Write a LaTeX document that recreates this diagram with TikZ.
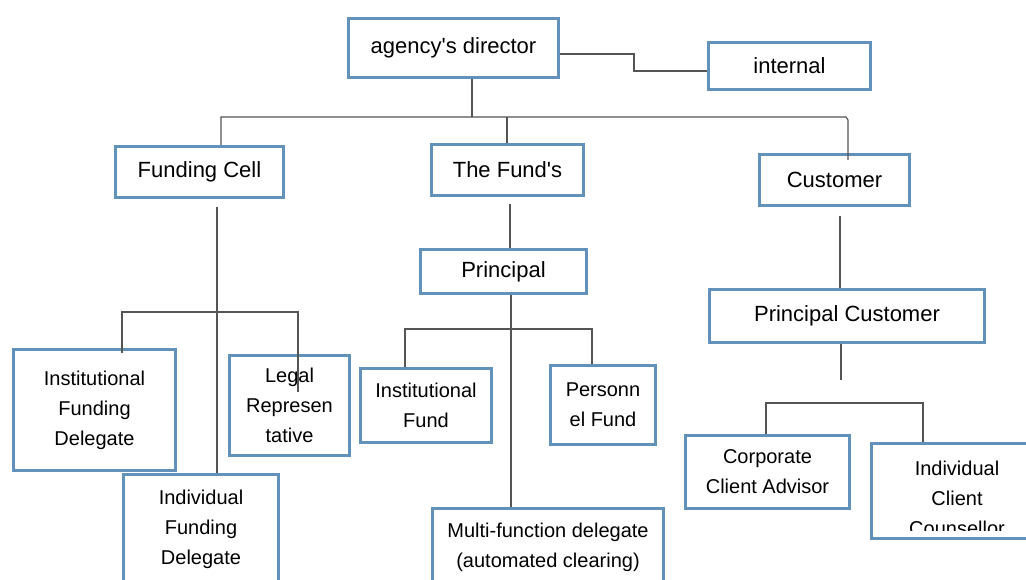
\documentclass[tikz,border=0pt]{standalone}
\usepackage{fontspec}
\setmainfont{Liberation Sans}
\begin{document}
\begin{tikzpicture}[x=1pt,y=-1pt,
  box/.style={draw=boxblue,line width=3pt,fill=white,inner sep=0pt,align=center},
  big/.style={box,font=\fontsize{22}{30}\selectfont},
  leaf/.style={box,font=\fontsize{20}{30}\selectfont},
  txt/.style={inner sep=0pt,align=center,font=\fontsize{20}{30}\selectfont},
  link/.style={draw=linegray,line width=1.2pt}]
\definecolor{boxblue}{RGB}{98,146,186}
\definecolor{linegray}{RGB}{85,85,85}
\clip (0,0) rectangle (1026,580);
\fill[white] (0,0) rectangle (1026,580);

% top level
\node[big,minimum width=210pt,minimum height=59pt] (dir) at (453.5,48) {agency\textquotesingle s director};
\node[big,minimum width=162pt,minimum height=47pt] (int) at (789.5,66) {internal};

% second level
\node[big,minimum width=168pt,minimum height=51pt] (fc) at (199.5,172) {Funding Cell};
\node[big,minimum width=152pt,minimum height=51pt] (fund) at (507.5,170) {The Fund\textquotesingle s};
\node[big,minimum width=150pt,minimum height=51pt] (cust) at (834.5,180) {Customer};

% third level
\node[big,minimum width=166pt,minimum height=44pt] (prin) at (503.5,271.5) {Principal};
\node[big,minimum width=275pt,minimum height=53pt] (pcust) at (847,316) {Principal Customer};

% leaves under Funding Cell
\node[leaf,minimum width=162pt,minimum height=121pt] (ifd) at (94.5,410) {Institutional\\Funding\\Delegate};
\node[leaf,minimum width=120pt,minimum height=100pt] (legal) at (289.5,405.5) {Legal\\Represen\\tative};
\node[leaf,minimum width=155pt,minimum height=109pt] (indfd) at (201,529) {Individual\\Funding\\Delegate};

% leaves under Principal
\node[leaf,minimum width=131pt,minimum height=74pt] (ifund) at (426,405.5) {Institutional\\Fund};
\node[leaf,minimum width=105pt,minimum height=79pt] (pfund) at (603,405) {Personn\\el Fund};
\node[leaf,minimum width=231pt,minimum height=78pt] (multi) at (548,547.5) {Multi-function delegate\\(automated clearing)};

% leaves under Principal Customer
\node[leaf,minimum width=164pt,minimum height=73pt] (corp) at (767.5,472) {Corporate\\Client Advisor};
\node[box,minimum width=171pt,minimum height=95pt] (icc) at (957,491) {};
\begin{scope}
  \clip (870,440) rectangle (1030,530);
  \node[txt] (icctxt) at (957,498) {Individual\\Client\\Counsellor};
\end{scope}

% connectors
\coordinate (dirturn) at (634,54);
\draw[link] (dir.east |- dirturn) -- (dirturn) -- (634,71) -- (int.west |- 0,71);

\coordinate (busA) at (472,117);
\draw[link] (472,0 |- dir.south) -- (busA);
\draw[link] (221,0 |- fc.north) -- (221,117) -- (846,117) -- (848,120) -- (848,160);
\draw[link] (507,0 |- fund.north) -- (507,117);

\draw[link] (217,207) -- (217,0 |- indfd.north);
\draw[link] (122,353) -- (122,312) -- (298,312) -- (298,392);

\draw[link] (510,204) -- (510,0 |- prin.north);
\draw[link] (511,0 |- prin.south) -- (511,0 |- multi.north);
\draw[link] (405,0 |- ifund.north) -- (405,329) -- (592,329) -- (592,0 |- pfund.north);

\draw[link] (840,216) -- (840,0 |- pcust.north);
\coordinate (pcend) at (841,380);
\draw[link] (841,0 |- pcust.south) -- (pcend);
\draw[link] (766,0 |- corp.north) -- (766,403) -- (923,403) -- (923,0 |- icc.north);
\end{tikzpicture}
\end{document}
